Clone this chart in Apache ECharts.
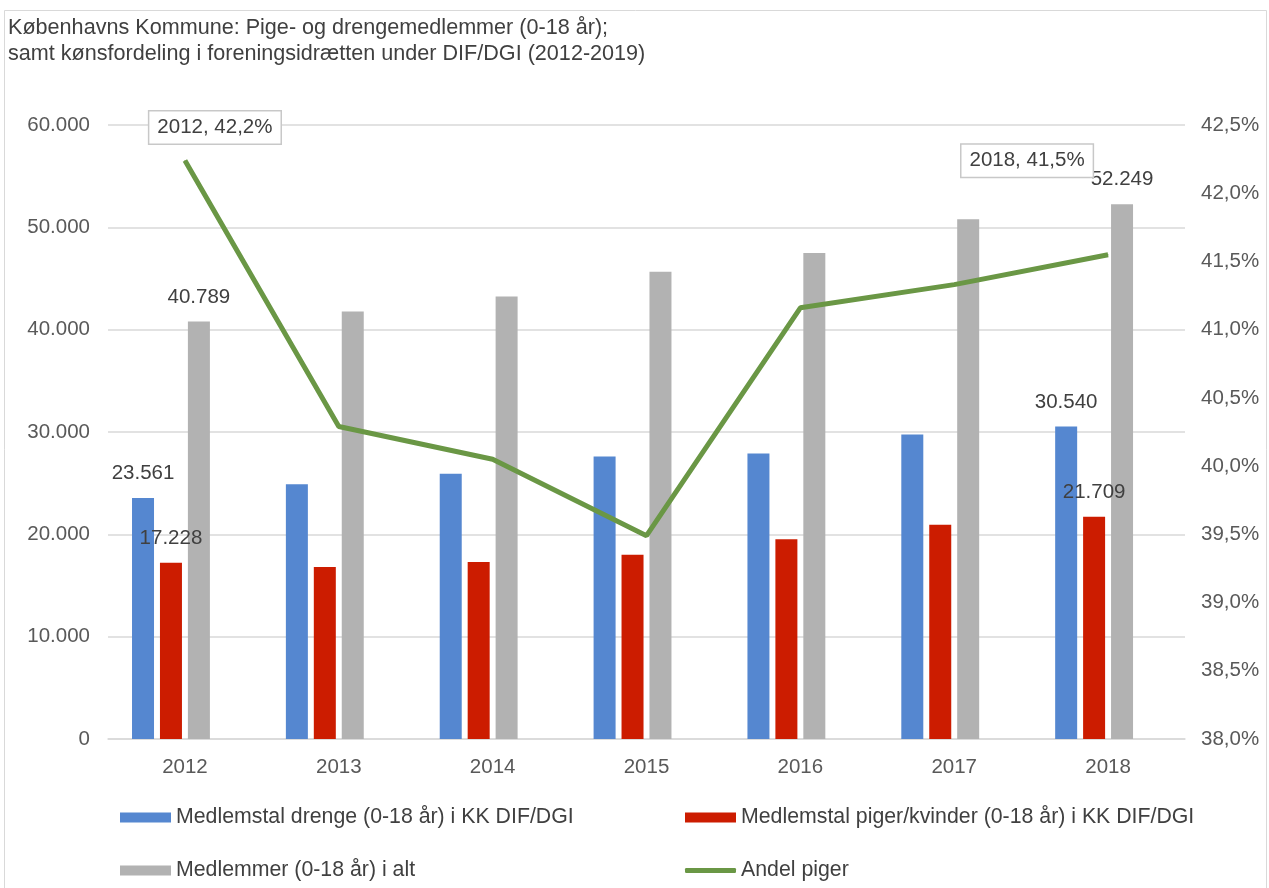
<!DOCTYPE html>
<html>
<head>
<meta charset="utf-8">
<script src="https://cdn.jsdelivr.net/npm/echarts@6/dist/echarts.min.js"></script>
<style>
  html, body { margin: 0; padding: 0; background: #fff; }
  #chart { width: 1269px; height: 888px; }
</style>
</head>
<body>
<div id="chart"></div>
<script>
// data
var years = ['2012', '2013', '2014', '2015', '2016', '2017', '2018'];
var drenge = [23561, 24900, 25930, 27600, 27900, 29760, 30540];
var piger = [17228, 16800, 17300, 18000, 19520, 20940, 21709];
var iAlt = [40789, 41770, 43230, 45670, 47500, 50780, 52249];
var andelPiger = [42.24, 40.29, 40.05, 39.49, 41.16, 41.33, 41.549];
var labelIdx = [0, 6];

var names = [
	'Medlemstal drenge (0-18 år) i KK DIF/DGI',
	'Medlemstal piger/kvinder (0-18 år) i KK DIF/DGI',
	'Medlemmer (0-18 år) i alt',
	'Andel piger'
];
var colors = ['#5587d0', '#cc1c00', '#b2b2b2', '#6a9745'];

var FONT = 'Liberation Sans, Arial, Helvetica, sans-serif';
var TXT = '#404040';
var FS = 20.5;

function dotFmt(v) {
	return String(v).replace(/\B(?=(\d{3})+(?!\d))/g, '.');
}
function pctFmt(v) {
	return v.toFixed(1).replace('.', ',') + '%';
}

// bar data with labels only on the first and last year
function barData(arr) {
	return arr.map(function(v, i) {
		return {
			value: v,
			label: { show: labelIdx.indexOf(i) >= 0 }
		};
	});
}

var lineOffsets = { 0: [30, -33], 6: [-81, -94] };
var lineData = andelPiger.map(function(v, i) {
	var d = { value: v };
	if (lineOffsets[i]) {
		d.label = { show: true, offset: lineOffsets[i] };
	}
	return d;
});

function barSeries(idx, arr) {
	return {
		name: names[idx],
		type: 'bar',
		yAxisIndex: 0,
		barWidth: 22,
		barGap: '27%',
		itemStyle: { color: colors[idx] },
		label: {
			show: false,
			position: 'top',
			distance: 14,
			color: TXT,
			fontSize: FS,
			fontFamily: FONT,
			formatter: function(p) { return dotFmt(p.value); }
		},
		data: barData(arr)
	};
}

function legendAt(idx, left, top, icon, h) {
	return {
		data: [{ name: names[idx], icon: icon }],
		left: left,
		top: top,
		itemWidth: 51,
		itemHeight: h,
		itemGap: 0,
		padding: 0,
		selectedMode: false,
		textStyle: { color: TXT, fontSize: 21.3, fontFamily: FONT, padding: [0, 0, 0, 0] }
	};
}

var myChart = echarts.init(document.getElementById('chart'));

var option = {
	backgroundColor: '#fff',
	animation: false,
	title: {
		text: 'Københavns Kommune: Pige- og drengemedlemmer (0-18 år);\nsamt kønsfordeling i foreningsidrætten under DIF/DGI (2012-2019)',
		left: 8,
		top: 15,
		padding: 0,
		textStyle: { color: TXT, fontSize: 21.6, fontWeight: 'normal', fontFamily: FONT, lineHeight: 26 }
	},
	graphic: [{
		type: 'rect',
		shape: { x: 4.5, y: 10.5, width: 1262, height: 900 },
		style: { fill: 'none', stroke: '#d9d9d9', lineWidth: 1 },
		z: -10
	}],
	legend: [
		legendAt(0, 120, 807, 'rect', 10),
		legendAt(1, 685, 807, 'rect', 10),
		legendAt(2, 120, 860, 'rect', 10),
		legendAt(3, 685, 860, 'roundRect', 5)
	],
	grid: { left: 108, right: 84, top: 125, bottom: 149, containLabel: false },
	xAxis: {
		type: 'category',
		data: years,
		axisTick: { show: false },
		axisLine: { lineStyle: { color: '#d9d9d9', width: 1.5 } },
		axisLabel: { color: '#595959', fontSize: FS, fontFamily: FONT, margin: 18 }
	},
	yAxis: [
		{
			type: 'value',
			min: 0,
			max: 60000,
			interval: 10000,
			axisLine: { show: false },
			axisTick: { show: false },
			splitLine: { lineStyle: { color: '#d9d9d9', width: 1.5 } },
			axisLabel: { color: '#595959', fontSize: FS, fontFamily: FONT, margin: 18, formatter: dotFmt }
		},
		{
			type: 'value',
			min: 38,
			max: 42.5,
			interval: 0.5,
			alignTicks: false,
			axisLine: { show: false },
			axisTick: { show: false },
			splitLine: { show: false },
			axisLabel: { color: '#595959', fontSize: FS, fontFamily: FONT, margin: 16, formatter: pctFmt }
		}
	],
	series: [
		barSeries(0, drenge),
		barSeries(1, piger),
		barSeries(2, iAlt),
		{
			// empty slot, keeps the bar groups shifted left as in the original
			name: 'tom',
			type: 'bar',
			barWidth: 22,
			barGap: '27%',
			data: years.map(function() { return null; })
		},
		{
			name: names[3],
			type: 'line',
			yAxisIndex: 1,
			z: 10,
			symbol: 'circle',
			symbolSize: 1,
			showSymbol: true,
			showAllSymbol: true,
			itemStyle: { color: colors[3] },
			lineStyle: { color: colors[3], width: 5 },
			label: {
				show: false,
				position: 'inside',
				color: TXT,
				fontSize: FS,
				fontFamily: FONT,
				backgroundColor: '#fff',
				borderColor: '#c8c8c8',
				borderWidth: 1.5,
				padding: [6, 8, 5, 8],
				formatter: function(p) { return p.name + ', ' + pctFmt(p.value); }
			},
			data: lineData
		}
	]
};

myChart.setOption(option);
</script>
</body>
</html>
